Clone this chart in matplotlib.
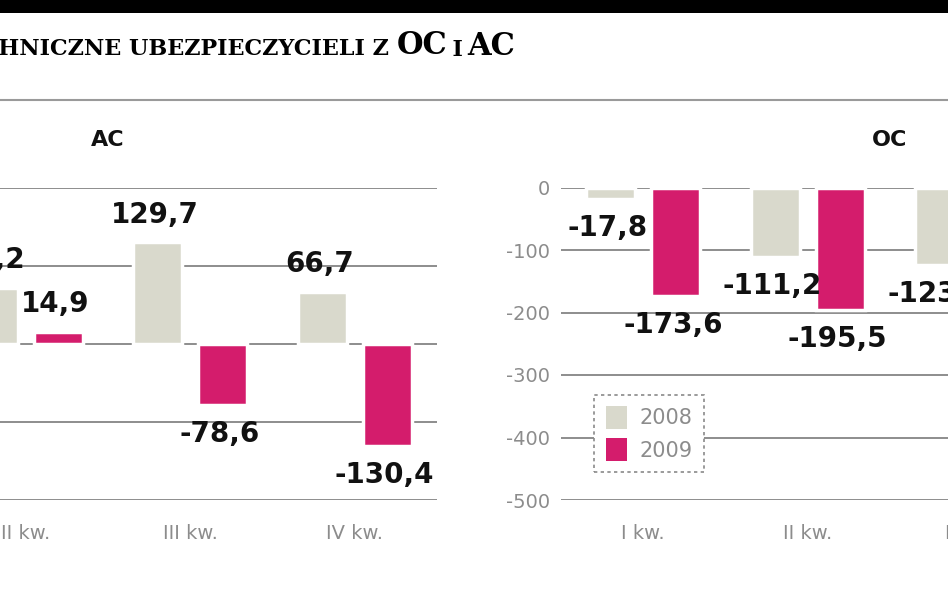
import numpy as np
import matplotlib
matplotlib.use("Agg")
import matplotlib.pyplot as plt
from matplotlib.text import Annotation

plt.rcParams['font.family'] = ['DejaVu Sans']
plt.rcParams['axes.unicode_minus'] = False

# data (mln zl), quarters I-IV
quarters = ["I kw.", "II kw.", "III kw.", "IV kw."]
years = ["2008", "2009"]
ac_2008 = [40.0, 71.2, 129.7, 66.7]
ac_2009 = [-20.0, 14.9, -78.6, -130.4]
oc_2008 = [-17.8, -111.2, -123.5, -60.0]
oc_2009 = [-173.6, -195.5, -90.0, -40.0]

c08 = "#d9d9cc"
c09 = "#d41c6c"
grid_c = "#7a7a7a"
tick_c = "#8c8c8c"

W, H = 948, 593
fig = plt.figure(figsize=(W / 100, H / 100), dpi=100)
fig.patch.set_facecolor("white")

# top black band and gray rule
fig.add_artist(plt.Rectangle((0, 1 - 13 / H), 1, 13 / H, transform=fig.transFigure,
                             color="black", lw=0))
fig.add_artist(plt.Line2D([0, 1], [1 - 100 / H] * 2, transform=fig.transFigure,
                          color="#9a9a9a", lw=1.5))

# title in small caps look, built right to left
parts = [("AC", 22), ("\u2009I\u2009", 16), ("OC", 22),
         ("WYNIKI TECHNICZNE UBEZPIECZYCIELI Z ", 16)]
prev = fig.text(515 / W, 1 - 62 / H, parts[0][0], ha="right", va="bottom",
                family="DejaVu Serif", weight="bold", fontsize=parts[0][1])
for txt, fs in parts[1:]:
    prev = fig.add_artist(Annotation(
        txt, xy=(0, 0.02), xycoords=prev, ha="right", va="bottom",
        family="DejaVu Serif", weight="bold", fontsize=fs))

y0 = (H - 500) / H
hgt = 312.5 / H
wid = 658 / W
x = np.arange(len(quarters))
off, bw = 0.198, 0.30


def fmt(v):
    return f"{v:.1f}".replace(".", ",")


def panel(left, title, v08, v09, ylim, step, show_y):
    ax = fig.add_axes([left, y0, wid, hgt])
    ax.set_facecolor("white")
    ax.set_xlim(-0.5, 3.5)
    ax.set_ylim(*ylim)
    ax.set_yticks(np.arange(ylim[0], ylim[1] + 1, step))
    ax.grid(axis="y", color=grid_c, lw=1.2)
    ax.set_axisbelow(True)
    for s in ax.spines.values():
        s.set_visible(False)
    b1 = ax.bar(x - off, v08, bw, color=c08, edgecolor="white", lw=2.5, label=years[0])
    b2 = ax.bar(x + off, v09, bw, color=c09, edgecolor="white", lw=2.5, label=years[1])
    for bars, vals in ((b1, v08), (b2, v09)):
        for rect, v in zip(bars, vals):
            dy = 20 if v >= 0 else -21
            ax.annotate(fmt(v), (rect.get_x() + rect.get_width() / 2, v),
                        xytext=(-2, dy), textcoords="offset points",
                        ha="center", va="center", fontsize=20, weight="bold",
                        color="#111111", annotation_clip=False)
    ax.set_xticks(x, quarters)
    ax.tick_params(axis="x", length=0, pad=17, labelsize=14, labelcolor=tick_c)
    ax.tick_params(axis="y", length=0, pad=8, labelsize=14, labelcolor=tick_c)
    if not show_y:
        ax.set_yticklabels([])
    ax.text(0.5, 1 + 47 / 312.5, title, transform=ax.transAxes, ha="center",
            va="center", fontsize=16, weight="bold", color="#111111")
    return ax


ax_ac = panel(-221 / W, "AC", ac_2008, ac_2009, (-200, 200), 100, False)
ax_oc = panel(561 / W, "OC", oc_2008, oc_2009, (-500, 0), 100, True)

leg = ax_oc.legend(loc="lower left", bbox_to_anchor=(0.035, 0.055), frameon=True,
                   fancybox=False, fontsize=15, handlelength=1.0, handleheight=1.3,
                   handletextpad=0.6, borderpad=0.55, labelspacing=0.45,
                   labelcolor=tick_c)
fr = leg.get_frame()
fr.set_edgecolor("#8a8a8a")
fr.set_linestyle((0, (2, 2)))
fr.set_linewidth(1.2)
fr.set_facecolor("white")
fr.set_alpha(1)
for h in leg.legend_handles:
    h.set_edgecolor("none")

fig.savefig("out.png", dpi=100, facecolor="white")
